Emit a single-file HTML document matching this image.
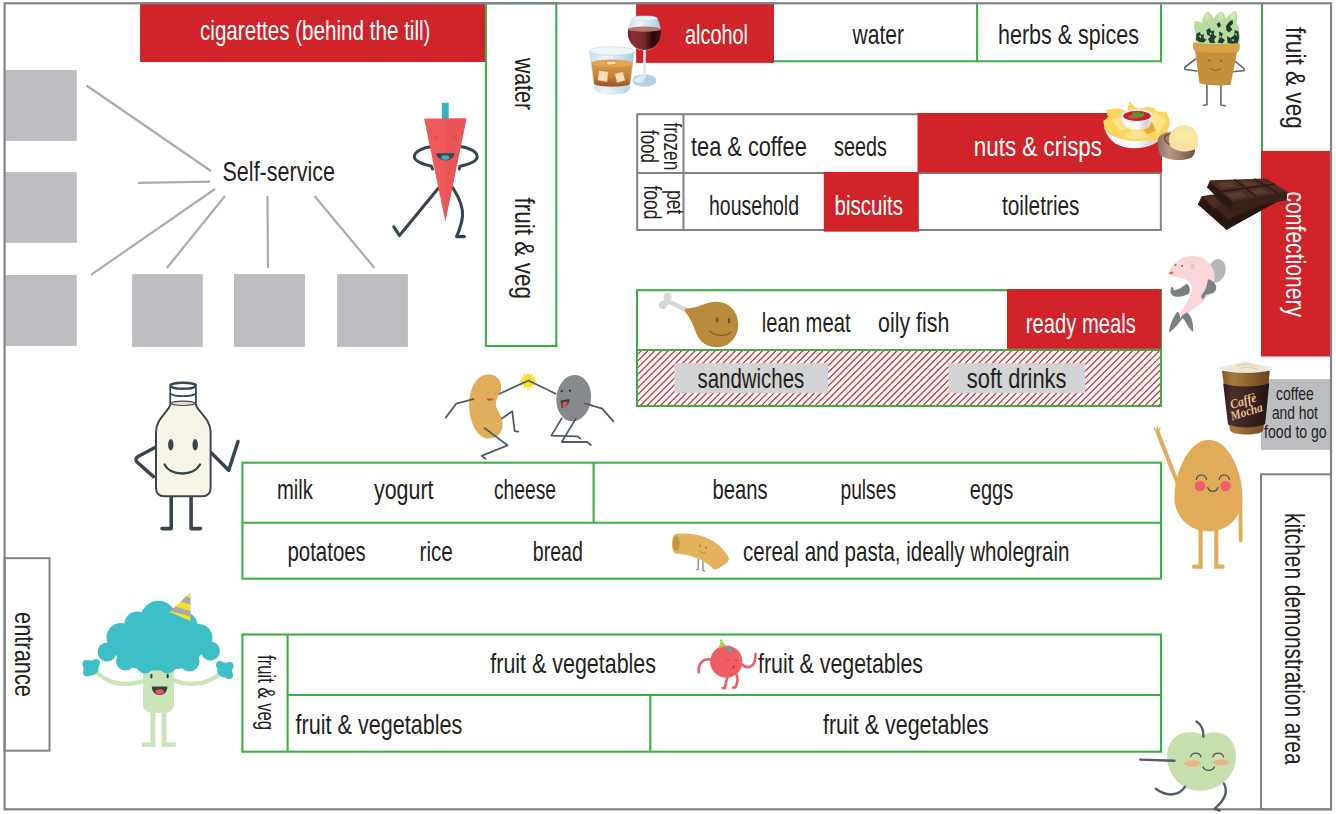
<!DOCTYPE html>
<html lang="en">
<head>
<meta charset="utf-8">
<title>Supermarket layout</title>
<style>
html,body{margin:0;padding:0;background:#fff;}
body{width:1336px;height:814px;overflow:hidden;}
svg{display:block;}
text{font-family:"Liberation Sans",sans-serif;fill:#231f20;}
.t{font-size:27.5px;}
.w{fill:#fff;}
.s{font-size:23px;}
.xs{font-size:19px;}
.gr{fill:none;stroke:#808285;stroke-width:2;}
.gn{fill:none;stroke:#3cae49;stroke-width:2.1;}
.red{fill:#d0232a;}
.sq{fill:#bbbdc0;}
.ln{stroke:#a9abae;stroke-width:2.2;fill:none;}
.k{fill:none;stroke:#37454f;stroke-linecap:round;stroke-linejoin:round;}
.k2{stroke:#515c66;}
</style>
</head>
<body>
<svg width="1336" height="814" viewBox="0 0 1336 814">
<rect x="0" y="0" width="1336" height="814" fill="#fff"/>
<g id="layout">
<rect class="red" x="140.1" y="2.4" width="344.9" height="59.6"/>
<rect class="red" x="636.1" y="2.4" width="137.9" height="60.5"/>
<rect class="sq" x="5.4" y="70" width="71.4" height="70.9"/>
<rect class="sq" x="5.4" y="172.1" width="71.4" height="70.7"/>
<rect class="sq" x="5.4" y="275" width="71.4" height="70.9"/>
<rect class="sq" x="132.1" y="274.1" width="70.7" height="72.8"/>
<rect class="sq" x="234" y="274.1" width="70.9" height="72.8"/>
<rect class="sq" x="337.1" y="274.1" width="70.8" height="72.8"/>
<path class="ln" d="M86.5 85.5L211 171M138 182.9L210 181.7M91 274.8L215 189M166.8 268L225 196M268 268L267.500 196M314.5 196L374.500 268"/>
<rect class="gn" x="485.9" y="3.3" width="70.4" height="342.7" fill="#fff"/>
<path class="gn" d="M773.5 61.3H1161M977.1 3.3V61.3M1161 3.3V62.4"/>
<path class="gn" d="M1262 3.3V151"/>
<rect class="red" x="1261" y="150.9" width="69" height="205.6"/>
<rect class="sq" x="1261" y="379.1" width="69" height="70.7"/>
<rect class="gr" x="1261" y="474.3" width="70" height="335"/>
<rect class="gr" x="637.2" y="114.2" width="523.6" height="115.8"/>
<path class="gr" d="M637.2 172.9H1160.8M683.5 114.2V229.8"/>
<rect class="red" x="917.5" y="113" width="244.5" height="59.5"/>
<rect class="red" x="823.8" y="172" width="95" height="59.700"/>
<clipPath id="hc"><rect x="638" y="350.5" width="522" height="55"/></clipPath>
<path clip-path="url(#hc)" d="M586.5 405.5L641.5 350.5M593.2 405.5L648.2 350.5M600.0 405.5L655.0 350.5M606.7 405.5L661.7 350.5M613.4 405.5L668.4 350.5M620.2 405.5L675.2 350.5M626.9 405.5L681.9 350.5M633.6 405.5L688.6 350.5M640.4 405.5L695.4 350.5M647.1 405.5L702.1 350.5M653.8 405.5L708.8 350.5M660.5 405.5L715.5 350.5M667.3 405.5L722.3 350.5M674.0 405.5L729.0 350.5M680.7 405.5L735.7 350.5M687.5 405.5L742.5 350.5M694.2 405.5L749.2 350.5M700.9 405.5L755.9 350.5M707.7 405.5L762.7 350.5M714.4 405.5L769.4 350.5M721.1 405.5L776.1 350.5M727.8 405.5L782.8 350.5M734.6 405.5L789.6 350.5M741.3 405.5L796.3 350.5M748.0 405.5L803.0 350.5M754.8 405.5L809.8 350.5M761.5 405.5L816.5 350.5M768.2 405.5L823.2 350.5M775.0 405.5L830.0 350.5M781.7 405.5L836.7 350.5M788.4 405.5L843.4 350.5M795.2 405.5L850.2 350.5M801.9 405.5L856.9 350.5M808.6 405.5L863.6 350.5M815.3 405.5L870.3 350.5M822.1 405.5L877.1 350.5M828.8 405.5L883.8 350.5M835.5 405.5L890.5 350.5M842.3 405.5L897.3 350.5M849.0 405.5L904.0 350.5M855.7 405.5L910.7 350.5M862.5 405.5L917.5 350.5M869.2 405.5L924.2 350.5M875.9 405.5L930.9 350.5M882.6 405.5L937.6 350.5M889.4 405.5L944.4 350.5M896.1 405.5L951.1 350.5M902.8 405.5L957.8 350.5M909.6 405.5L964.6 350.5M916.3 405.5L971.3 350.5M923.0 405.5L978.0 350.5M929.8 405.5L984.8 350.5M936.5 405.5L991.5 350.5M943.2 405.5L998.2 350.5M949.9 405.5L1004.9 350.5M956.7 405.5L1011.7 350.5M963.4 405.5L1018.4 350.5M970.1 405.5L1025.1 350.5M976.9 405.5L1031.9 350.5M983.6 405.5L1038.6 350.5M990.3 405.5L1045.3 350.5M997.0 405.5L1052.0 350.5M1003.8 405.5L1058.8 350.5M1010.5 405.5L1065.5 350.5M1017.2 405.5L1072.2 350.5M1024.0 405.5L1079.0 350.5M1030.7 405.5L1085.7 350.5M1037.4 405.5L1092.4 350.5M1044.2 405.5L1099.2 350.5M1050.9 405.5L1105.9 350.5M1057.6 405.5L1112.6 350.5M1064.4 405.5L1119.4 350.5M1071.1 405.5L1126.1 350.5M1077.8 405.5L1132.8 350.5M1084.5 405.5L1139.5 350.5M1091.3 405.5L1146.3 350.5M1098.0 405.5L1153.0 350.5M1104.7 405.5L1159.7 350.5M1111.5 405.5L1166.5 350.5M1118.2 405.5L1173.2 350.5M1124.9 405.5L1179.9 350.5M1131.7 405.5L1186.7 350.5M1138.4 405.5L1193.4 350.5M1145.1 405.5L1200.1 350.5M1151.8 405.5L1206.8 350.5M1158.6 405.5L1213.6 350.5" fill="none" stroke="#d52d34" stroke-width="1.2"/>
<rect x="674.3" y="363.2" width="153.800" height="30" fill="#d1d3d4"/>
<rect x="948.5" y="363.2" width="136.700" height="30" fill="#d1d3d4"/>
<rect class="gn" x="637" y="290.2" width="524" height="115.8"/>
<path class="gn" d="M637 350H1161"/>
<rect class="red" x="1007" y="289.1" width="154.100" height="59.8"/>
<rect class="gn" x="242.4" y="462.700" width="918.6" height="116"/>
<path class="gn" d="M242.4 522.800H1161M593.6 462.700V522.800"/>
<rect class="gn" x="242.4" y="634.5" width="918.6" height="117.2"/>
<path class="gn" d="M287.6 695H1161M287.6 634.5V751.7M650.3 695V751.7"/>
<rect class="gr" x="4.6" y="558.2" width="44.9" height="192.5"/>
<rect class="gr" x="4.6" y="3.3" width="1326.4" height="806" style="stroke-width:2.2"/>
</g>
<g id="labels">
<text class="t w" x="200" y="39.5" textLength="230.5" lengthAdjust="spacingAndGlyphs">cigarettes (behind the till)</text>
<text class="t" x="222.5" y="181.3" textLength="112.5" lengthAdjust="spacingAndGlyphs">Self-service</text>
<text class="t w" x="685" y="43.8" textLength="63" lengthAdjust="spacingAndGlyphs">alcohol</text>
<text class="t" x="852.5" y="43.8" textLength="51.5" lengthAdjust="spacingAndGlyphs">water</text>
<text class="t" x="998" y="43.8" textLength="141" lengthAdjust="spacingAndGlyphs">herbs &amp; spices</text>
<text class="t" x="691" y="155.5" textLength="115.8" lengthAdjust="spacingAndGlyphs">tea &amp; coffee</text>
<text class="t" x="834" y="155.5" textLength="52.8" lengthAdjust="spacingAndGlyphs">seeds</text>
<text class="t w" x="973.8" y="155.5" textLength="128.2" lengthAdjust="spacingAndGlyphs">nuts &amp; crisps</text>
<text class="t" x="709" y="215.2" textLength="90" lengthAdjust="spacingAndGlyphs">household</text>
<text class="t w" x="834.5" y="215.2" textLength="68.5" lengthAdjust="spacingAndGlyphs">biscuits</text>
<text class="t" x="1002" y="215.2" textLength="77.5" lengthAdjust="spacingAndGlyphs">toiletries</text>
<text class="t" x="761.8" y="332.3" textLength="88.7" lengthAdjust="spacingAndGlyphs">lean meat</text>
<text class="t" x="878" y="332.3" textLength="71.3" lengthAdjust="spacingAndGlyphs">oily fish</text>
<text class="t w" x="1025.8" y="332.7" textLength="110.0" lengthAdjust="spacingAndGlyphs">ready meals</text>
<text class="t" x="697.5" y="387.8" textLength="106.8" lengthAdjust="spacingAndGlyphs">sandwiches</text>
<text class="t" x="966.8" y="387.8" textLength="99.7" lengthAdjust="spacingAndGlyphs">soft drinks</text>
<text class="xs" x="1276" y="400.3" textLength="37.8" lengthAdjust="spacingAndGlyphs">coffee</text>
<text class="xs" x="1271.9" y="419" textLength="46.0" lengthAdjust="spacingAndGlyphs">and hot</text>
<text class="xs" x="1264.1" y="437.9" textLength="62.6" lengthAdjust="spacingAndGlyphs">food to go</text>
<text class="t" x="277" y="499" textLength="36" lengthAdjust="spacingAndGlyphs">milk</text>
<text class="t" x="374" y="498.7" textLength="59.5" lengthAdjust="spacingAndGlyphs">yogurt</text>
<text class="t" x="494" y="498.7" textLength="62" lengthAdjust="spacingAndGlyphs">cheese</text>
<text class="t" x="712.5" y="498.7" textLength="55.0" lengthAdjust="spacingAndGlyphs">beans</text>
<text class="t" x="840.5" y="498.7" textLength="55.5" lengthAdjust="spacingAndGlyphs">pulses</text>
<text class="t" x="969.8" y="498.7" textLength="43.5" lengthAdjust="spacingAndGlyphs">eggs</text>
<text class="t" x="287.5" y="560.5" textLength="78.3" lengthAdjust="spacingAndGlyphs">potatoes</text>
<text class="t" x="419.5" y="560.5" textLength="33.3" lengthAdjust="spacingAndGlyphs">rice</text>
<text class="t" x="532.8" y="560.5" textLength="50.0" lengthAdjust="spacingAndGlyphs">bread</text>
<text class="t" x="743" y="560.5" textLength="326.5" lengthAdjust="spacingAndGlyphs">cereal and pasta, ideally wholegrain</text>
<text class="t" x="490.3" y="672.5" textLength="165.7" lengthAdjust="spacingAndGlyphs">fruit &amp; vegetables</text>
<text class="t" x="758" y="672.5" textLength="165" lengthAdjust="spacingAndGlyphs">fruit &amp; vegetables</text>
<text class="t" x="295.5" y="734.3" textLength="166.8" lengthAdjust="spacingAndGlyphs">fruit &amp; vegetables</text>
<text class="t" x="823" y="734.3" textLength="165.8" lengthAdjust="spacingAndGlyphs">fruit &amp; vegetables</text>
<text class="t" transform="translate(514.5 58) rotate(90)" textLength="52" lengthAdjust="spacingAndGlyphs">water</text>
<text class="t" transform="translate(515 197.5) rotate(90)" textLength="101.5" lengthAdjust="spacingAndGlyphs">fruit &amp; veg</text>
<text class="t" transform="translate(1286 27) rotate(90)" textLength="101.8" lengthAdjust="spacingAndGlyphs">fruit &amp; veg</text>
<text class="t w" transform="translate(1286 191.5) rotate(90)" textLength="125.5" lengthAdjust="spacingAndGlyphs">confectionery</text>
<text class="s" transform="translate(664.2 122.4) rotate(90)" textLength="47.9" lengthAdjust="spacingAndGlyphs">frozen</text>
<text class="s" transform="translate(641.3 130) rotate(90)" textLength="32.8" lengthAdjust="spacingAndGlyphs">food</text>
<text class="s" transform="translate(667 190) rotate(90)" textLength="24.4" lengthAdjust="spacingAndGlyphs">pet</text>
<text class="s" transform="translate(643.8 185.5) rotate(90)" textLength="34.0" lengthAdjust="spacingAndGlyphs">food</text>
<text class="s" transform="translate(257.5 655) rotate(90)" textLength="75" lengthAdjust="spacingAndGlyphs">fruit &amp; veg</text>
<text class="t" transform="translate(14.5 612) rotate(90)" textLength="85" lengthAdjust="spacingAndGlyphs">entrance</text>
<text class="t" transform="translate(1284.5 513) rotate(90)" textLength="251.5" lengthAdjust="spacingAndGlyphs">kitchen demonstration area</text>
</g>
<g id="carrot">
<path class="k" stroke-width="3" d="M431.5 146.5C424 147.500 414.500 151 414.300 156.500C414.200 161.500 424 164.500 431.500 166.200L432.500 169"/>
<path class="k" stroke-width="3" d="M460.500 146.500C468 147.500 477 151 477.200 156.500C477.300 161.500 468 164.500 460 166.200L459.200 169"/>
<path class="k" stroke-width="3.1" d="M438.500 188L399.500 235.600L393.800 226.800"/>
<path class="k" stroke-width="3.1" d="M453 188C458 196 463.500 206 462.500 216C461.800 224 459 231 456.600 236.600H464.400"/>
<rect x="441.800" y="102.800" width="6.900" height="16.500" fill="#2fb4c2"/>
<path d="M424.100 118.500H466.400L445.300 221.400Z" fill="#ee5a5c"/>
<path d="M445.300 118.500H466.400L445.300 221.400Z" fill="#e95458"/>
<path d="M436.300 153.200H454.500C454 158 450 160.300 445.400 160.300C440.800 160.300 436.800 158 436.300 153.200Z" fill="#37454f"/>
<ellipse cx="445.400" cy="157.500" rx="4" ry="2.300" fill="#2fb4c2"/>
<path d="M433.500 135.500L438.500 137.400L433.800 139.200M457.200 135.500L452.200 137.400L456.900 139.200" fill="none" stroke="#c9444a" stroke-width="0.900"/>
</g>
<g id="bottle">
<path class="k" stroke-width="3.500" d="M155.500 447.300L138 456.500C135.500 458 135.500 460 137 462L153.400 476.600"/>
<path class="k" stroke-width="3.500" d="M211 452.500L228.700 470.300L238 441.500"/>
<path class="k" stroke-width="3.600" d="M171.200 496V528.600H162M191.100 496V528.600H200.400"/>
<path d="M170.400 384.500V404C170.400 410 156 418 156 432V488C156 493 159 496.200 164 496.200H202.500C207.500 496.200 210.600 493 210.600 488V432C210.600 418 195.800 410 195.800 404V384.500Z" fill="#f6f5e8" stroke="#3a4750" stroke-width="2" stroke-linejoin="round"/>
<path d="M171.300 385V402.500C176 405.800 190 405.800 194.900 402.500V385Z" fill="#fff"/>
<ellipse cx="183.100" cy="403.300" rx="11.600" ry="2.200" fill="#eadfd8" stroke="#3a4750" stroke-width="1.100"/>
<ellipse cx="183.100" cy="385.800" rx="12.300" ry="3" fill="#fff" stroke="#3a4750" stroke-width="2.400"/>
<path d="M170.400 393.800C175 397 191 397 195.800 393.800" fill="none" stroke="#3a4750" stroke-width="1.700"/>
<ellipse cx="170.800" cy="444.800" rx="2.700" ry="5.700" fill="#37454f"/>
<ellipse cx="195.200" cy="444.800" rx="2.700" ry="5.700" fill="#37454f"/>
<path class="k" stroke-width="2.300" d="M164.500 464.500C171 476.500 193.500 476.500 200 464.500"/>
</g>
<g id="beans">
<path d="M488.400 374.200C496 374.200 501.600 380 501.300 387.500C501 394.500 495.600 398 495.900 404.500C496.200 411 503 416 502.600 425C502.200 433.500 496 438.800 488.400 438.600C477 438.300 469.200 422 469.200 405C469.200 388 477 374.200 488.400 374.200Z" fill="#e0ad5a"/>
<ellipse cx="573.700" cy="398.200" rx="17.300" ry="23.300" transform="rotate(6 573.700 398.200)" fill="#858a8d"/>
<path d="M528.1 372.0L529.5 375.6L532.6 373.2L532.1 377.0L535.9 376.5L533.5 379.6L537.1 381.0L533.5 382.4L535.9 385.5L532.1 385.0L532.6 388.8L529.5 386.4L528.1 390.0L526.7 386.4L523.6 388.8L524.1 385.0L520.3 385.5L522.7 382.4L519.1 381.0L522.7 379.6L520.3 376.5L524.1 377.0L523.6 373.2L526.7 375.6Z" fill="#f6e21e"/>
<g class="k k2" stroke-width="1.800">
<path d="M473.400 399.200L456.200 403.700L445.700 417.600"/>
<path d="M499.600 393.700L528.5 380.500"/>
<path d="M501.900 418.400L512.300 411.200L514.600 431.100L518.300 431.600"/>
<path d="M484.600 428.100L507.500 445.300L481.600 455.800L485.400 458.800"/>
<path d="M555.700 393.700L528.500 380.500"/>
<path d="M584.900 403.400L602.200 408.700L613.400 421.400"/>
<path d="M561.700 418.400L551.300 435.600L577.500 436.300L580.500 438.600"/>
<path d="M576 418.400L561.700 442L587.200 442L590.900 445"/>
</g>
<path d="M486.300 394.200C486.800 392.600 489.200 392.600 489.700 394.200M494.200 394.200C494.700 392.600 497.100 392.600 497.600 394.200" fill="none" stroke="#b98a44" stroke-width="0.700"/>
<path d="M486.500 398.500H493.500C493 401.500 487.500 401.500 486.500 398.500Z" fill="#e2474c"/>
<circle cx="561.700" cy="391.100" r="1.100" fill="#2f3437"/>
<circle cx="570" cy="390.700" r="1.100" fill="#2f3437"/>
<path d="M560.500 400.500L569.500 399C569.500 405 564 408.500 561.500 407.500Z" fill="#3a3f42"/>
<path d="M562.500 402.500L567.500 401.500C567 405.500 564.500 408 562.600 407.600Z" fill="#ee4f5a"/>
</g>
<g id="broccoli">
<g fill="none" stroke="#c9e4b8" stroke-width="4.400" stroke-linecap="round">
<path d="M145 680.600C125 687 108 684 95 671"/>
<path d="M172 680C192 687 208 685 222 672"/>
</g>
<path d="M143 668H173.900V704.500C173.900 709 170.500 712.700 166 712.700H151C146.500 712.700 143 709 143 704.500Z" fill="#c9e4b8"/>
<path d="M150.400 711V742.400H141.900V746.900H155.300V711ZM161.600 711V746.900H175.700V742.400H166.500V711Z" fill="#c9e4b8"/>
<g fill="#3cbfc6">
<ellipse cx="158.500" cy="646.500" rx="46" ry="22"/>
<ellipse cx="158" cy="657" rx="41" ry="13.500"/>
<circle cx="158.500" cy="619" r="18.200"/>
<circle cx="137" cy="624" r="12.500"/>
<circle cx="184" cy="625.500" r="13.500"/>
<circle cx="121" cy="637.500" r="14.500"/>
<circle cx="198.500" cy="638" r="14"/>
<circle cx="107" cy="652" r="9.500"/>
<circle cx="210.500" cy="651" r="9.500"/>
<circle cx="125.500" cy="661" r="9.500"/>
<circle cx="145" cy="664.500" r="9"/>
<circle cx="167.500" cy="664.500" r="9"/>
<circle cx="189.500" cy="661.500" r="10"/>
<circle cx="91" cy="667.800" r="7.600"/>
<circle cx="86.500" cy="664" r="4"/>
<circle cx="96" cy="663" r="4"/>
<circle cx="87" cy="672.500" r="4"/>
<circle cx="224.800" cy="670" r="7.600"/>
<circle cx="229.500" cy="666" r="4"/>
<circle cx="220" cy="665" r="4"/>
<circle cx="229" cy="675" r="4"/>
</g>
<ellipse cx="151.400" cy="676.200" rx="1.100" ry="2.400" fill="#3a3f42"/>
<ellipse cx="167.700" cy="676.200" rx="1.100" ry="2.400" fill="#3a3f42"/>
<path d="M151.800 686.500H167.400C167.400 691.500 164 695 159.600 695C155.200 695 151.800 691.500 151.800 686.500Z" fill="#3a3f42"/>
<ellipse cx="159.600" cy="691.800" rx="4.200" ry="2.600" fill="#f0525a"/>
<path d="M190.500 592.200L169.500 612.100L190.500 620.900Z" fill="#f5e02a"/>
<path d="M186.200 596.300L190.500 598.500V604.500L180.300 601.900ZM175.300 606.600L190.500 611V616.500L170.500 611.200Z" fill="#a8a9ad"/>
</g>
<g id="chicken">
<path d="M686.500 310.500L671.500 302.800" stroke="#d5d6d8" stroke-width="4.600" stroke-linecap="round" fill="none"/>
<circle cx="667.600" cy="296.800" r="4.100" fill="#d5d6d8"/>
<circle cx="663" cy="305" r="4.100" fill="#d5d6d8"/>
<circle cx="667" cy="301.500" r="3.500" fill="#d5d6d8"/>
<path d="M685.300 308.500C694 308.800 701 305 709 302.800C725 298.500 738.300 309 738.300 324.500C738.300 338 728.500 347.500 716.500 347.300C703 347.100 697.500 338 694.500 329C692 321.500 688.500 316 685 311.500Z" fill="#b98a3b"/>
<ellipse cx="717.100" cy="319.800" rx="1.300" ry="2.900" fill="#6f5a33"/>
<ellipse cx="729.100" cy="320.700" rx="1.300" ry="2.900" fill="#6f5a33"/>
<path d="M709.300 330.600C715 336.500 725.500 336.800 730.800 332.300" fill="none" stroke="#7a6233" stroke-width="1.300" stroke-linecap="round"/>
</g>
<g id="pasta">
<path d="M698.500 559.500L698 569L696.500 569.800M702.900 561.500L703 570.300L704.500 571" fill="none" stroke="#9094a0" stroke-width="1.500" stroke-linecap="round"/>
<path d="M676 533.800C690 532.500 705 535 716 543C722.500 548 727 553.500 728.700 557.500C729.300 559.500 728.500 561 727 562.500C723.500 565.500 720 568 716.500 569.300C715 569.800 713.800 569.500 712.800 568.500C709 564.500 702 559.500 692 556.500C686 554.800 680.500 554 675.500 553.600C670.800 552 670.800 535.500 676 533.800Z" fill="#e3b25c"/>
<ellipse cx="676.300" cy="543.600" rx="3.500" ry="7.300" fill="#c29340"/>
<ellipse cx="700.200" cy="545.900" rx="0.800" ry="1.300" fill="#a88038"/>
<ellipse cx="705.900" cy="547.600" rx="0.800" ry="1.300" fill="#a88038"/>
<path d="M699.500 550.500C701 553 704 553.500 705.500 552" fill="none" stroke="#a88038" stroke-width="0.900"/>
</g>
<g id="tomato">
<g fill="none" stroke="#f05c62" stroke-width="2.600" stroke-linecap="round">
<path d="M711.500 659.900C704 657.500 698 663 698.800 672.300"/>
<path d="M741.500 664.300C747 669.500 756 668 755.500 654"/>
<path d="M727.500 676.500L724.800 688H722.500"/>
<path d="M736.500 674.500C738.500 679 737.500 683 735.300 687.500H733"/>
</g>
<circle cx="726.300" cy="661.700" r="16.100" fill="#f05c62"/>
<path d="M720.700 638L719.100 647.500L727.300 646.800Z" fill="#efe13a"/>
<path d="M720.300 640.500L722.300 641.500M719.800 643.300L724.500 644.300M719.300 646L726.500 646.300" stroke="#2fb4c2" stroke-width="0.900" fill="none"/>
<circle cx="729.500" cy="649.600" r="2.100" fill="#2fb4c2"/>
<path d="M726.300 659C727.500 661 730 661 731 659.500M734.500 659C735.700 661 738 661 739 659.500" fill="none" stroke="#c9484e" stroke-width="0.800"/>
<ellipse cx="733.500" cy="667.100" rx="1.300" ry="1.600" fill="#b9444a"/>
</g>
<g id="egg">
<path d="M1177.500 483L1157.500 432" stroke="#e0ac5a" stroke-width="4" stroke-linecap="round" fill="none"/>
<path d="M1157.500 433L1154.300 428.500M1157.500 433L1157.300 427.300M1157.500 433L1160 428.200" stroke="#e0ac5a" stroke-width="1.500" stroke-linecap="round" fill="none"/>
<path d="M1240.300 498L1240.700 540.500" stroke="#e0ac5a" stroke-width="3.800" stroke-linecap="round" fill="none"/>
<path d="M1198.500 528V564.500H1193.200C1191.800 564.500 1191.800 568.700 1193.200 568.700H1202.700V528ZM1214.200 528V568.700H1223.500C1224.900 568.700 1224.900 564.500 1223.500 564.500H1218.400V528Z" fill="#e0ac5a"/>
<path d="M1208.900 439.700C1229 439.700 1242.500 473 1242.500 497C1242.500 517 1228 531.300 1208.900 531.300C1189 531.300 1174.400 517 1174.400 497C1174.400 473 1188.500 439.700 1208.900 439.700Z" fill="#e0ac5a"/>
<circle cx="1200" cy="486" r="5.300" fill="#f0626b"/>
<circle cx="1225.600" cy="486" r="5.300" fill="#f0626b"/>
<path d="M1196.300 479.500C1197.300 473.500 1205.500 473.500 1206.500 479.500M1219.200 479.500C1220.200 473.500 1228.400 473.500 1229.400 479.500M1207.800 487.500C1209 492.500 1216.500 492.500 1217.800 487.500" fill="none" stroke="#4b5058" stroke-width="1.200" stroke-linecap="round"/>
</g>
<g id="apple">
<path d="M1202.800 736C1198 731.500 1188 730.500 1180 734C1170 738.500 1165.500 750 1167.500 762C1170 778 1183 790.800 1200 790.600C1218 790.400 1232.500 779 1235.500 762C1237.500 750 1233.500 739 1224 734.500C1216 730.800 1207.500 732 1202.800 736Z" fill="#c6dfac"/>
<g class="k k2" stroke-width="2.400">
<path d="M1196.500 721.500C1201.500 724.500 1203.500 729.500 1203.400 736.500"/>
<path d="M1140.300 759.600L1174.500 760.800"/>
<path d="M1185 786.700C1180 795 1168 798 1155.800 788.800"/>
<path d="M1223.900 783.500C1228.500 792 1225 800 1214.500 808.800L1219.500 810.500"/>
</g>
<ellipse cx="1192.600" cy="763.500" rx="8.300" ry="2.900" fill="#edb28e"/>
<ellipse cx="1221" cy="762.300" rx="8.300" ry="2.900" fill="#edb28e"/>
<path d="M1190.600 756.800C1192 751.800 1199.500 751.800 1201 756.800M1213 756.800C1214.500 751.800 1222 751.800 1223.500 756.800M1203 767C1205 771.500 1212.500 771.500 1214.300 767" fill="none" stroke="#4b5661" stroke-width="1.300" stroke-linecap="round"/>
</g>
<g id="herb">
<g fill="none" stroke="#5d6670" stroke-width="1.600" stroke-linecap="round" stroke-linejoin="round">
<path d="M1195.500 59L1185.200 67C1184.200 68 1184.500 69.200 1185.800 69.500L1197 71"/>
<path d="M1235 61.200L1243.800 68.500C1244.800 69.500 1244.500 70.600 1243.200 70.800L1233 71.800"/>
<path d="M1206.900 84.500V104.700L1203.500 105.200M1220.900 84.500V105L1225.200 105.800"/>
</g>
<path d="M1195.500 44C1195.500 40 1195 36 1195.800 32.500C1193.500 29 1193.500 24.500 1194.500 21.500C1197 20.500 1200 21.500 1202 23.500C1202 18.500 1204.500 13.500 1207.500 11.500C1210.500 13 1212.500 16 1213.500 19C1215.500 15 1218.500 12 1221.500 11.500C1224 13 1225.500 16 1226 19C1228.500 15 1232.500 11.500 1236 11C1237.500 14.500 1237.500 19.500 1236.500 23.500C1238.500 25.500 1239.500 28.500 1239 31.500C1240.500 35.500 1240.300 40 1239 44.500Z" fill="#b9db9f"/>
<g fill="#cfe6b6">
<path d="M1204 14.500L1208 12.500L1209.500 18.500L1205.500 21ZM1218 14L1222.500 12.500L1223.500 18.500L1219 20.500ZM1230 14.500L1235.500 12L1235.500 19L1231 21Z"/>
</g>
<g fill="#1f3d30">
<path d="M1196.500 33.500L1200 32L1201 35L1204 34L1203.500 38L1206.500 39.500L1204 42.500L1199.500 42L1196 40Z"/>
<path d="M1206.500 30L1209.500 28L1211.500 31L1214.500 30.500L1213.500 34.500L1216.500 36.500L1214 40L1215.500 43L1210 43L1208 39L1210.500 36.500L1207 34.500Z"/>
<path d="M1216.500 24L1219.500 22L1221 25.500L1218.500 28ZM1219 31.500L1223 33.500L1221.500 37.500L1225 40L1222.500 43.500L1217.500 42.500L1219.500 38Z"/>
<path d="M1226 26L1229 22L1232.500 19.500L1233 23.500L1230 26.500L1232.500 29.500L1229 32.500L1226.500 30.500Z"/>
<path d="M1227 36L1230.500 38L1234 35.500L1235 30L1238.500 31.500L1239 38L1237.500 43.500L1232 44L1227.500 43Z"/>
</g>
<g fill="#b9db9f">
<path d="M1198.500 36L1201 35.500L1201 38.500ZM1209.500 32.500L1212 33L1210.500 35.500ZM1220 35L1221.500 37L1219.500 38ZM1231 40L1233.500 39L1234 41.500ZM1234.500 34L1236.500 33L1237 36Z"/>
</g>
<path d="M1195.200 51L1237.200 51.500L1230.600 84.800C1222 86.200 1208 85.500 1199.400 83.300Z" fill="#c5903d"/>
<path d="M1193.500 42.500C1207 44.500 1226 44.500 1239.300 43C1240.300 46 1239.800 49.500 1238.500 51.800C1225 53.500 1207 53 1194.500 51.300C1192.800 49 1192.500 45 1193.500 42.500Z" fill="#d6a247"/>
<circle cx="1209.500" cy="60.500" r="1.200" fill="#8e6a2c"/>
<circle cx="1221.300" cy="60.800" r="1.200" fill="#8e6a2c"/>
<path d="M1210.800 68.200C1213 71.300 1218 71.300 1220.500 68.300" fill="none" stroke="#8e6a2c" stroke-width="1.100" stroke-linecap="round"/>
</g>
<g id="fish">
<ellipse cx="1216.600" cy="270.900" rx="8.800" ry="12" transform="rotate(16 1216.600 270.900)" fill="#bab6b7"/>
<path d="M1169.4 272.9 C1171.8 263.2 1180.8 256.1 1192.4 256.1 C1205.3 256.1 1215.0 265.8 1214.6 277.4 C1214.3 287.7 1209.2 295.4 1202.7 301.9 C1196.3 308.3 1187.2 312.2 1182.7 317.4 L1179.5 312.8 C1184.7 307.0 1190.5 298.0 1191.7 289.0 C1192.4 283.8 1187.2 279.3 1181.4 278.0 C1176.3 277.0 1171.1 276.1 1169.4 272.9 Z" fill="#f9d6da"/>
<path d="M1171.1 287.1 C1172.4 286.4 1173.7 288.3 1173.7 290.3 C1178.2 290.3 1182.7 286.4 1186.6 283.8 C1189.8 285.1 1190.5 290.3 1189.2 293.5 C1184.0 296.7 1176.3 298.0 1172.4 295.4 C1170.2 293.5 1170.2 289.6 1171.1 287.1 Z" fill="#7b8083"/>
<path d="M1207.9 279.3 C1213.0 280.6 1216.9 283.8 1216.2 289.0 C1215.6 292.9 1210.4 294.2 1205.9 294.8 C1204.6 296.7 1204.0 298.7 1202.7 299.3 C1200.8 298.0 1200.8 295.4 1202.7 293.5 C1205.9 290.3 1207.2 285.1 1207.9 279.3 Z" fill="#7b8083"/>
<path d="M1177.6 311.6 C1179.5 313.5 1180.1 316.1 1180.1 318.6 C1181.4 316.1 1184.0 313.5 1187.2 312.5 C1191.7 316.1 1193.7 323.8 1193.0 331.8 C1188.5 329.0 1186.6 322.5 1182.7 318.0 C1178.9 322.5 1175.0 329.0 1168.9 332.6 C1169.8 325.1 1173.1 316.7 1177.6 311.6 Z" fill="#7b8083"/>
<ellipse cx="1192.500" cy="266.500" rx="2.300" ry="2.600" fill="#ecc4cb"/>
<circle cx="1175.600" cy="265.100" r="0.900" fill="#5a4a50"/>
<circle cx="1182.100" cy="265.800" r="0.900" fill="#5a4a50"/>
<ellipse cx="1171.300" cy="273" rx="2.200" ry="1.300" transform="rotate(-15 1171.300 273)" fill="#e8604a"/>
</g>
<g id="choc">
<path d="M1197.900 204.300L1201.600 196.300L1212.600 194.500L1277 201.800L1226.500 229.700Z" fill="#3b231c"/>
<path d="M1197.900 204.300L1226.500 229.700L1277 201.800L1275 199L1228.500 219.500L1204 198.500Z" fill="#2a1611"/>
<path d="M1203.500 197.500L1213.500 195.800L1221.500 204.500L1214 208.500Z" fill="#4a2e25"/>
<path d="M1207.100 187.300L1209.900 180.200L1266.100 178.400L1287.300 191.700L1286.300 200L1231.100 211.200Z" fill="#4a2e25"/>
<path d="M1207.100 187.300L1231.100 211.200L1286.300 200L1287.300 191.700L1232.500 201.500L1210.200 182Z" fill="#2e1a14"/>
<path d="M1231.100 211.200L1232.500 201.500L1287.300 191.700L1286.300 200Z" fill="#3a221b"/>
<g fill="none" stroke="#2e1a14" stroke-width="1.400">
<path d="M1234.500 179.500L1256.500 196.500M1254.500 178.800L1277.500 193M1221 191.800L1274.500 184"/>
</g>
<g fill="#5a3a2e">
<path d="M1217.500 183L1231 182.300L1236.500 186.500L1222.500 188.300Z"/>
<path d="M1241 181.800L1252 181.300L1258 185L1246.500 186Z"/>
<path d="M1226.500 194L1241 191.800L1247 196.500L1232.500 199Z"/>
<path d="M1250.500 190.300L1261.500 188.800L1267.500 192.500L1256 194.500Z"/>
</g>
</g>
<g id="coffee">
<defs>
<linearGradient id="cupg" x1="0" y1="0" x2="1" y2="0">
<stop offset="0" stop-color="#8a5a2a"/><stop offset="0.25" stop-color="#a97a3f"/><stop offset="0.6" stop-color="#8c5c2c"/><stop offset="1" stop-color="#6a4220"/>
</linearGradient>
<linearGradient id="slv" x1="0" y1="0" x2="1" y2="0">
<stop offset="0" stop-color="#2f1b1a"/><stop offset="0.2" stop-color="#4a2e2c"/><stop offset="0.6" stop-color="#3a2220"/><stop offset="1" stop-color="#241312"/>
</linearGradient>
</defs>
<path d="M1221.900 370.500H1269.900L1263.300 430C1262.500 436 1231 436 1230 430Z" fill="url(#cupg)"/>
<path d="M1223.200 383.500C1236 387.500 1256 387.500 1269.200 383.200L1265.200 424C1255 428.500 1238 428.500 1228 424.400Z" fill="url(#slv)"/>
<ellipse cx="1246" cy="368.500" rx="26.500" ry="4.300" fill="#e4ebf0"/>
<path d="M1228.500 369.500C1231 364.500 1237 363 1241 362.800C1243 361.300 1249.500 361.300 1251.500 363C1257 363.500 1263.500 366 1265.800 370C1256 373.300 1238 373.300 1228.500 369.500Z" fill="#efe6cf"/>
<path d="M1236 366C1241 364 1250 364 1255 366.500M1240 368.300C1245 367 1251 367.300 1257 369" fill="none" stroke="#d2c5a3" stroke-width="0.800"/>
<text transform="translate(1231.500 409) rotate(-17)" style="font-family:'Liberation Serif',serif;font-style:italic;font-weight:bold;font-size:13px;fill:#e2bd90" textLength="27" lengthAdjust="spacingAndGlyphs">Caffè</text>
<text transform="translate(1232 420.500) rotate(-17)" style="font-family:'Liberation Serif',serif;font-style:italic;font-weight:bold;font-size:13px;fill:#e2bd90" textLength="33" lengthAdjust="spacingAndGlyphs">Mocha</text>
</g>
<g id="nachos">
<defs>
<linearGradient id="bowlg" x1="0" y1="0" x2="1" y2="0">
<stop offset="0" stop-color="#f4f4f4"/><stop offset="0.5" stop-color="#ffffff"/><stop offset="0.8" stop-color="#cfcfd1"/><stop offset="1" stop-color="#ececec"/>
</linearGradient>
<linearGradient id="woodg" x1="0" y1="0" x2="1" y2="0">
<stop offset="0" stop-color="#8a6a58"/><stop offset="0.3" stop-color="#b89888"/><stop offset="0.55" stop-color="#a5806e"/><stop offset="1" stop-color="#6e5040"/>
</linearGradient>
</defs>
<path d="M1104.500 128C1108 142 1120 148.300 1134 148.300C1148 148.300 1162 143 1167 130Z" fill="url(#bowlg)"/>
<path d="M1106 109.500L1119 108.500L1127 111L1129.500 101.200L1135 107L1140 109L1147 106.500L1154 108L1157.500 111.500L1166.500 112L1168.500 117.500L1170.200 123L1167.500 131L1163 137.500L1156 140L1145 140.500L1133 141.200L1121 139L1111 135.500L1104.500 129L1103.300 121L1108 117Z" fill="#fbd55e"/>
<path d="M1112 120L1124 114L1134 126L1120 131ZM1140 128L1155 112L1166 120L1158 133ZM1124 134L1138 129L1150 137L1132 140Z" fill="#fde38c"/>
<path d="M1143 129L1152 122L1156 131L1147 134Z" fill="#e9a92c"/>
<path d="M1121.500 116.500C1122.500 124 1127 129 1132 129.500H1144C1149 129 1152 123 1152.500 116.500Z" fill="url(#bowlg)"/>
<ellipse cx="1137" cy="115.700" rx="16" ry="6.500" fill="#e9e9ef"/>
<ellipse cx="1137" cy="116" rx="13.800" ry="5" fill="#c1272d"/>
<ellipse cx="1134" cy="116.800" rx="6" ry="2" fill="#d9454a"/>
<path d="M1131.500 116L1133.500 111.500L1136 113L1138.500 111L1140 113.500L1143.500 113L1144.500 115.500L1141 117.500L1137.500 116.500L1135 118Z" fill="#4a9a2a"/>
<path d="M1157.800 139.500C1159 134.500 1166 131.500 1172 131.500L1194.800 148C1195.300 152 1194.500 155.500 1191 157.800C1183 161.500 1168 160.800 1160.500 155.500C1158 152 1157.500 145 1157.800 139.500Z" fill="url(#woodg)"/>
<path d="M1164 136C1166 133.500 1170 133 1173 134L1170 145C1166.500 144.500 1163.500 141 1164 136Z" fill="#6e5040"/>
<path d="M1165.500 137C1167 135 1170 134.700 1172 135.300L1169.700 143.500C1167.300 143 1165.300 140.500 1165.500 137Z" fill="#a5806e"/>
<path d="M1170.500 133.500C1173 126.500 1183 123.500 1190 126.500C1196.500 129.500 1199.500 137 1197.500 142C1199 146 1196 150 1191 150.500C1185 152.500 1177 151.500 1172.500 148C1168.500 145 1168 138.500 1170.500 133.500Z" fill="#f7e4a4"/>
<path d="M1176 131C1180 127 1188 127 1192 131.500C1195 135.500 1193 141 1188 142.500C1182 144 1176 141 1175 136.500C1174.700 134.500 1175 132.500 1176 131Z" fill="#fbe9a8"/>
<path d="M1171 143.500C1176 147.500 1186 149 1195 145.500" fill="none" stroke="#ecd58f" stroke-width="0.800"/>
</g>
<g id="glasses">
<defs>
<linearGradient id="glg" x1="0" y1="0" x2="1" y2="0">
<stop offset="0" stop-color="#c6dcea"/><stop offset="0.35" stop-color="#eef5f9"/><stop offset="0.6" stop-color="#d3e5ef"/><stop offset="1" stop-color="#a9cce0"/>
</linearGradient>
<linearGradient id="wng" x1="0" y1="0" x2="1" y2="0">
<stop offset="0" stop-color="#6e2328"/><stop offset="0.15" stop-color="#8a3036"/><stop offset="0.5" stop-color="#7a282d"/><stop offset="0.75" stop-color="#2a0608"/><stop offset="1" stop-color="#4a1216"/>
</linearGradient>
<linearGradient id="whg" x1="0" y1="0" x2="0" y2="1">
<stop offset="0" stop-color="#d79a45"/><stop offset="0.55" stop-color="#c88436"/><stop offset="1" stop-color="#9a4e28"/>
</linearGradient>
</defs>
<ellipse cx="644.400" cy="80.500" rx="12" ry="6.200" fill="#b3d0e2"/>
<path d="M633 80C637 77 641.500 76 643.300 73V82C640 84 635.500 83 633 80Z" fill="#dceaf2"/>
<rect x="643.200" y="49" width="2.600" height="29.500" fill="#dbe8f0"/>
<path d="M631.500 18.400C629 24 627.500 29.500 627.900 34C628.500 43.500 635.500 50.400 644.400 50.400C653.300 50.400 660.500 43.500 661 34C661.300 29.500 660 24 657.500 18.400C653 15.200 636 15.200 631.500 18.400Z" fill="url(#glg)"/>
<path d="M628.300 29C627.900 31 627.800 32.500 627.900 34C628.500 43.500 635.500 50 644.400 50C653.300 50 660.500 43.500 661 34C661.100 32.500 661 31 660.700 29Z" fill="url(#wng)"/>
<ellipse cx="644.500" cy="29.200" rx="16.200" ry="2.600" fill="#b3766e"/>
<ellipse cx="644.500" cy="18.300" rx="12.500" ry="2.400" fill="#eaf2f7" stroke="#c3d9e7" stroke-width="0.600"/>
<path d="M589.100 51L594 88C595 93.500 603 94.500 612 94.500C621 94.500 629 93.500 630 88L634.600 51Z" fill="url(#glg)"/>
<path d="M591.500 63L594.300 84C597 87.500 627 87.500 629.700 84L632.400 63Z" fill="url(#whg)"/>
<ellipse cx="612" cy="63.200" rx="20.500" ry="3.800" fill="#e0a750"/>
<g fill="#f7dfbb" stroke="#b8733a" stroke-width="0.600">
<path d="M598.500 70.500L608.500 71.500L607.500 82L597.500 80.500Z"/>
<path d="M614.500 73.500L623 71.500L625.500 80.500L617 83Z"/>
<path d="M606 61.500L615 61L616.500 64.500L607.500 65Z"/>
</g>
<ellipse cx="611.900" cy="51" rx="22.700" ry="4.300" fill="#eef5f9" stroke="#c3d9e7" stroke-width="0.700"/>
</g>
</svg>
</body>
</html>
